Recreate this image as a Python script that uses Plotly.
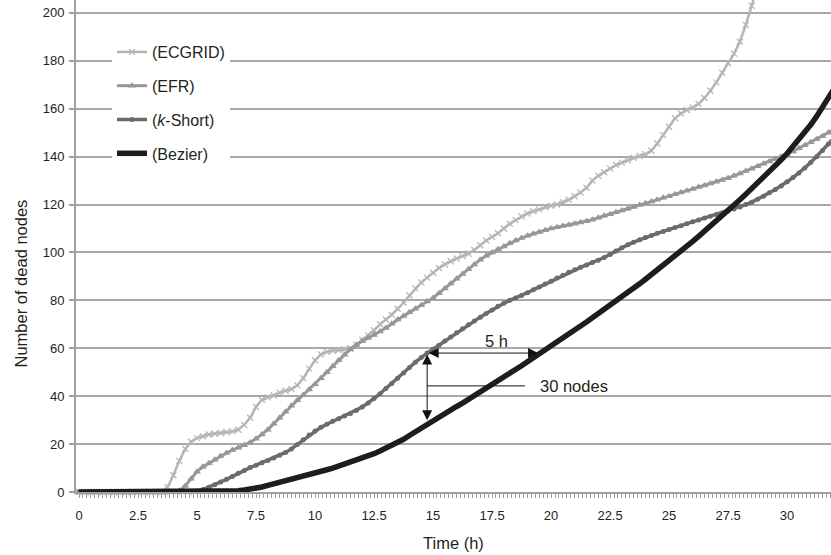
import plotly.graph_objects as go

# ---- data (0.25 h steps) ----
TIME_H = [i * 0.25 for i in range(129)]

ECGRID = [
    0, 0, 0, 0, 0, 0, 0, 0,
    0, 0, 0, 0, 0, 0, 0, 2.0,
    7.0, 13.0, 18.0, 21.0, 22.5, 23.3, 24.0, 24.3,
    24.6, 25.0, 25.3, 26.0, 28.0, 31.0, 35.5, 38.5,
    39.5, 40.3, 41.5, 42.3, 43.0, 44.5, 47.5, 51.5,
    55.0, 57.5, 58.5, 59.0, 59.3, 59.6, 60.0, 61.5,
    63.5, 65.5, 67.5, 70.0, 72.0, 74.0, 76.5, 79.0,
    82.0, 85.0, 87.5, 89.5, 91.5, 93.5, 95.0, 96.3,
    97.5, 98.5, 99.5, 101.0, 103.0, 105.0, 106.5, 108.0,
    110.0, 112.0, 113.5, 115.0, 116.3, 117.2, 118.0, 119.0,
    119.5, 120.0, 121.0, 122.0, 123.5, 125.0, 127.0, 130.0,
    132.0, 133.5, 135.0, 136.5, 137.5, 138.5, 139.5, 140.3,
    141.0, 142.5, 145.5, 149.0, 152.5, 156.0, 158.0, 159.5,
    160.5, 162.0, 164.5, 167.5, 171.0, 175.0, 179.0, 183.0,
    188.0, 195.0, 203.0, 212.0,
]

EFR = [
    0, 0, 0, 0, 0, 0, 0, 0,
    0, 0, 0, 0, 0, 0, 0, 0,
    0, 0.5, 2.5, 5.5, 8.5, 10.5, 12.0, 13.5,
    15.0, 16.3, 17.5, 18.5, 19.5, 20.7, 22.2, 24.0,
    26.0, 28.5, 31.0, 33.5, 36.0, 38.3, 40.5, 42.8,
    45.0, 47.5, 50.0, 52.5, 55.0, 57.3, 59.5, 61.4,
    63.0, 64.3, 65.5, 67.0, 68.5, 70.2, 72.0, 73.5,
    75.0, 76.5, 78.0, 79.5, 81.0, 83.0, 85.0, 87.0,
    89.0, 91.0, 93.0, 95.0, 97.0, 98.6, 100.0, 101.3,
    102.5, 103.8, 105.0, 106.0, 107.0, 107.8, 108.5, 109.3,
    110.0, 110.5, 111.0, 111.5, 112.0, 112.5, 113.0, 113.7,
    114.5, 115.3, 116.0, 116.8, 117.5, 118.3, 119.0, 119.8,
    120.5, 121.3, 122.0, 122.8, 123.5, 124.3, 125.0, 125.8,
    126.5, 127.3, 128.0, 128.8, 129.5, 130.3, 131.0, 132.0,
    133.0, 134.0, 135.0, 136.0, 137.0, 138.0, 139.0, 140.0,
    141.0, 142.2, 143.5, 144.8, 146.0, 147.3, 148.5, 150.0,
    151.5,
]

K_SHORT = [
    0, 0, 0, 0, 0, 0, 0, 0,
    0, 0, 0, 0, 0, 0, 0, 0,
    0, 0, 0, 0, 0.3, 1.0, 2.0, 3.0,
    4.2, 5.3, 6.5, 7.8, 9.0, 10.2, 11.2, 12.2,
    13.2, 14.2, 15.3, 16.5, 18.0, 19.8, 21.8, 23.8,
    25.5, 27.0, 28.3, 29.5, 30.6, 31.7, 32.8, 34.0,
    35.5, 37.2, 39.0, 41.0, 43.2, 45.3, 47.5, 49.7,
    52.0, 54.2, 56.2, 58.0, 59.6, 61.3, 63.0, 64.7,
    66.5, 68.2, 69.8, 71.4, 73.0, 74.5, 76.0, 77.5,
    78.8, 80.0, 81.0, 82.0, 83.2, 84.4, 85.6, 86.8,
    88.0, 89.3, 90.5, 91.7, 92.8, 93.8, 94.8, 95.8,
    96.8, 97.9, 99.2, 100.6, 102.0, 103.2, 104.3, 105.3,
    106.2, 107.1, 108.0, 108.8, 109.6, 110.4, 111.2, 112.0,
    112.8, 113.6, 114.4, 115.1, 115.8, 116.5, 117.3, 118.1,
    119.0, 120.0, 121.0, 122.2, 123.5, 124.9, 126.3, 127.8,
    129.5, 131.3, 133.2, 135.3, 137.6, 140.0, 142.6, 145.3,
    148.0,
]

BEZIER = [
    0, 0, 0, 0, 0, 0, 0, 0,
    0, 0, 0, 0, 0, 0, 0, 0,
    0, 0, 0, 0, 0, 0, 0, 0,
    0, 0.1, 0.3, 0.5, 0.8, 1.1, 1.5, 2.1,
    2.8, 3.4, 4.0, 4.6, 5.2, 5.8, 6.5, 7.2,
    7.9, 8.6, 9.3, 10.0, 10.8, 11.6, 12.4, 13.2,
    14.1, 15.0, 16.0, 17.1, 18.2, 19.4, 20.7, 22.0,
    23.6, 25.2, 26.8, 28.4, 29.9, 31.3, 32.8, 34.2,
    35.7, 37.1, 38.6, 40.1, 41.6, 43.1, 44.7, 46.3,
    47.9, 49.5, 51.1, 52.7, 54.4, 56.0, 57.7, 59.3,
    61.0, 62.6, 64.3, 65.9, 67.6, 69.3, 71.0, 72.7,
    74.4, 76.1, 77.9, 79.7, 81.5, 83.3, 85.1, 86.9,
    88.8, 90.7, 92.6, 94.5, 96.5, 98.5, 100.5, 102.5,
    104.6, 106.7, 108.8, 110.9, 113.1, 115.3, 117.5, 119.7,
    122.0, 124.3, 126.6, 128.9, 131.3, 133.7, 136.2, 138.7,
    141.3, 144.1, 147.0, 150.1, 153.3, 156.8, 160.5, 164.4,
    168.5,
]

SERIES_NAMES = ["(ECGRID)", "(EFR)", "(<i>k</i>-Short)", "(Bezier)"]
X_TICK_VALS = [0, 2.5, 5, 7.5, 10, 12.5, 15, 17.5, 20, 22.5, 25, 27.5, 30]
X_TICK_TEXT = ["0", "2.5", "5", "7.5", "10", "12.5", "15", "17.5", "20", "22.5", "25", "27.5", "30"]

FONT = "Liberation Sans, Arial, sans-serif"
TXT = "#231f20"

styles = [
    dict(color="#b5b5b5", width=2.5, symbol="x-thin-open", msize=6, mline=1.3),
    dict(color="#979797", width=3, symbol="triangle-up", msize=7, mline=0),
    dict(color="#6b6b6b", width=3.5, symbol="circle", msize=5, mline=0),
    dict(color="#1f1c1c", width=5.5, symbol=None, msize=0, mline=0),
]

fig = go.Figure()
for i, (name, vals, st) in enumerate(zip(SERIES_NAMES, [ECGRID, EFR, K_SHORT, BEZIER], styles)):
    mode = "lines+markers" if st["symbol"] else "lines"
    marker = dict(symbol=st["symbol"], size=st["msize"], color=st["color"],
                  line=dict(width=st["mline"], color=st["color"])) if st["symbol"] else None
    fig.add_trace(go.Scatter(
        x=TIME_H[:len(vals)], y=vals, name=name, mode=mode,
        line=dict(color=st["color"], width=st["width"]),
        marker=marker, cliponaxis=False, legendgroup=f"g{i}",
    ))

# annotations: 5 h and 30 nodes arrows
ARROW_T0, ARROW_T1 = 14.75, 19.45
ARROW_Y_TOP, ARROW_Y_BOT = 58, 30
NODES_LINE_Y, NODES_LINE_T1 = 44.3, 18.9

fig.add_annotation(x=ARROW_T1, y=ARROW_Y_TOP, ax=ARROW_T0, ay=ARROW_Y_TOP,
                   xref="x", yref="y", axref="x", ayref="y", text="",
                   showarrow=True, arrowhead=2, arrowside="end+start",
                   arrowsize=2, arrowwidth=1, arrowcolor="#111")
fig.add_annotation(x=ARROW_T0, y=ARROW_Y_BOT, ax=ARROW_T0, ay=ARROW_Y_TOP,
                   xref="x", yref="y", axref="x", ayref="y", text="",
                   showarrow=True, arrowhead=2, arrowside="end+start",
                   arrowsize=2, arrowwidth=1, arrowcolor="#111")
fig.add_shape(type="line", xref="x", yref="y", x0=ARROW_T0, x1=NODES_LINE_T1,
              y0=NODES_LINE_Y, y1=NODES_LINE_Y, line=dict(color="#111", width=1))
fig.add_annotation(x=17.7, y=63.0, xref="x", yref="y", text="5 h", showarrow=False,
                   font=dict(family=FONT, size=16.5, color=TXT), xanchor="center", yanchor="middle")
fig.add_annotation(x=19.45, y=NODES_LINE_Y, xref="x", yref="y", text="30 nodes", showarrow=False,
                   font=dict(family=FONT, size=16.5, color=TXT), xanchor="left", yanchor="middle")

# axis titles
fig.add_annotation(x=(20 - 76) / 755, y=(492 - 283.5) / 492, xref="paper", yref="paper",
                   text="Number of dead nodes", textangle=-90, showarrow=False,
                   font=dict(family=FONT, size=16.5, color=TXT), xanchor="center", yanchor="middle")
fig.add_annotation(x=0.5, y=(492 - 543) / 492, xref="paper", yref="paper",
                   text="Time (h)", showarrow=False,
                   font=dict(family=FONT, size=16.5, color=TXT), xanchor="center", yanchor="middle")

fig.update_layout(
    width=831, height=555,
    margin=dict(l=76, r=0, t=0, b=63, autoexpand=False),
    paper_bgcolor="white", plot_bgcolor="white",
    font=dict(family=FONT, color=TXT, size=13),
    showlegend=True,
    legend=dict(x=(112 - 76) / 755, y=(492 - 35) / 492, xanchor="left", yanchor="top",
                bgcolor="white", borderwidth=0, traceorder="grouped", tracegroupgap=10,
                font=dict(family=FONT, size=16, color=TXT), itemwidth=30),
    xaxis=dict(range=[-0.127, 31.86], showgrid=False, zeroline=False, automargin=False,
               showline=True, linecolor="#a0a0a0", linewidth=2,
               tickmode="array", tickvals=X_TICK_VALS, ticktext=X_TICK_TEXT,
               ticks="outside", ticklen=4, tickcolor="#a0a0a0", tickwidth=1,
               ticklabelstandoff=6,
               minor=dict(dtick=1 / 6, tick0=0, ticks="outside", ticklen=4,
                          tickcolor="#a0a0a0", tickwidth=1, showgrid=False),
               tickfont=dict(family=FONT, size=13, color=TXT)),
    yaxis=dict(range=[0, 205.4], dtick=20, tick0=0, showgrid=True, automargin=False,
               gridcolor="#a8a8a8", gridwidth=1.5, zeroline=False,
               showline=True, linecolor="#a0a0a0", linewidth=2,
               ticks="outside", ticklen=5, tickcolor="#a0a0a0", tickwidth=1.5,
               ticklabelstandoff=2,
               tickfont=dict(family=FONT, size=13, color=TXT)),
)

fig.write_html("out.html", config={"displayModeBar": False},
               post_script="document.body.style.margin='0';document.body.style.overflow='hidden';")
